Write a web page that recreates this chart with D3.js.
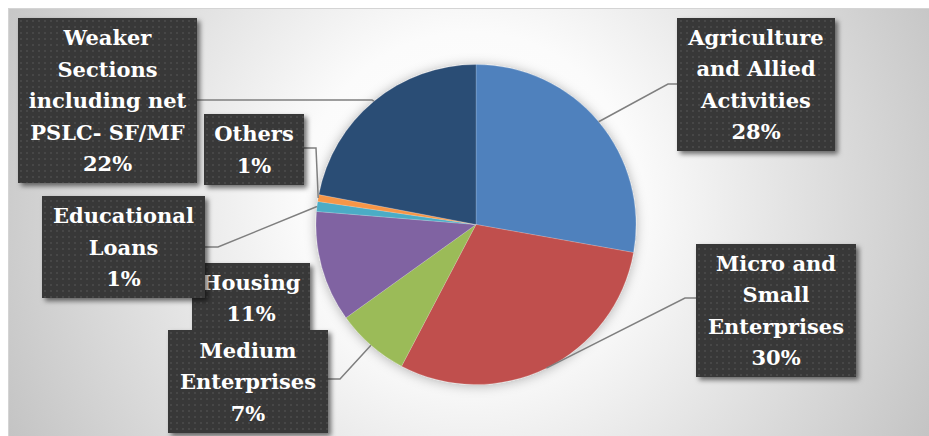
<!DOCTYPE html>
<html>
<head>
<meta charset="utf-8">
<script src="https://cdn.jsdelivr.net/npm/d3@7"></script>
<style>
  html, body { margin: 0; padding: 0; background: #fff; }
  svg { display: block; }
</style>
</head>
<body>
<div id="chart"></div>
<script>
// Priority sector lending share by sector (%)
const categories = [
    'Agriculture and Allied Activities',
    'Micro and Small Enterprises',
    'Medium Enterprises',
    'Housing',
    'Educational Loans',
    'Others',
    'Weaker Sections including net PSLC- SF/MF'
];
const shares = [27.8, 29.9, 7.4, 11.2, 1.0, 0.7, 22.0];
const sliceColors = ['#4f81bd', '#c0504d', '#9bbb59', '#8064a2', '#4bacc6', '#f79646', '#2c4d75'];
const labelLines = [
    ['Agriculture', 'and Allied', 'Activities'],
    ['Micro and', 'Small', 'Enterprises'],
    ['Medium', 'Enterprises'],
    ['Housing'],
    ['Educational', 'Loans'],
    ['Others'],
    ['Weaker', 'Sections', 'including net', 'PSLC- SF/MF']
];

// Posición de las etiquetas (caja + codo de la línea guía)
const labelLayout = [
    { x: 677, y: 18,  w: 158, h: 133, elbow: [668, 84],  side: 'left' },
    { x: 696, y: 244, w: 160, h: 133, elbow: [685, 298], side: 'left' },
    { x: 168, y: 330, w: 160, h: 103, elbow: [340, 379], side: 'right' },
    { x: 192, y: 263, w: 118, h: 70,  elbow: null },
    { x: 42,  y: 196, w: 163, h: 102, elbow: [218, 247], side: 'right' },
    { x: 204, y: 114, w: 100, h: 71,  elbow: [316, 148], side: 'right' },
    { x: 18,  y: 18,  w: 179, h: 165, elbow: [372, 100], side: 'right' }
];
const drawOrder = [0, 1, 3, 2, 4, 5, 6];

const W = 929, H = 436;
const cx = 476, cy = 224.5, radius = 160;
const lineHeight = 31.5;

const svg = d3.select('#chart').append('svg')
    .attr('width', W).attr('height', H);

const defs = svg.append('defs');

// Fondo con degradado radial
const grad = defs.append('radialGradient')
    .attr('id', 'bg').attr('gradientUnits', 'userSpaceOnUse')
    .attr('cx', 470).attr('cy', 200).attr('r', 560);
grad.append('stop').attr('offset', 0).attr('stop-color', '#ffffff');
grad.append('stop').attr('offset', 0.3).attr('stop-color', '#fbfbfb');
grad.append('stop').attr('offset', 1).attr('stop-color', '#bdbdbd');

// Patrón punteado de las cajas
const pat = defs.append('pattern')
    .attr('id', 'dots').attr('patternUnits', 'userSpaceOnUse')
    .attr('width', 6).attr('height', 6);
pat.append('rect').attr('width', 6).attr('height', 6).attr('fill', '#393939');
pat.append('rect').attr('x', 2).attr('y', 2).attr('width', 2).attr('height', 2).attr('fill', '#474747');

const boxShadow = defs.append('filter').attr('id', 'boxShadow')
    .attr('x', '-10%').attr('y', '-10%').attr('width', '130%').attr('height', '130%');
boxShadow.append('feDropShadow')
    .attr('dx', 3).attr('dy', 3).attr('stdDeviation', 2.5)
    .attr('flood-color', '#000').attr('flood-opacity', 0.55);

const pieShadow = defs.append('filter').attr('id', 'pieShadow')
    .attr('x', '-20%').attr('y', '-20%').attr('width', '140%').attr('height', '140%');
pieShadow.append('feDropShadow')
    .attr('dx', 0).attr('dy', 1).attr('stdDeviation', 6)
    .attr('flood-color', '#000').attr('flood-opacity', 0.3);

svg.append('rect')
    .attr('x', 8.5).attr('y', 8.5).attr('width', W).attr('height', H)
    .attr('fill', 'url(#bg)').attr('stroke', '#d4d4d4').attr('stroke-width', 1);

// Pie
const pie = d3.pie().sort(null).value(d => d)(shares);
const arc = d3.arc().innerRadius(0).outerRadius(radius);

const pieG = svg.append('g')
    .attr('transform', `translate(${cx},${cy})`)
    .attr('filter', 'url(#pieShadow)');

pieG.selectAll('path')
    .data(pie)
    .join('path')
    .attr('d', arc)
    .attr('fill', (d, i) => sliceColors[i])
    .attr('stroke', 'rgba(255,255,255,0.35)')
    .attr('stroke-width', 0.5);

// Líneas guía
const edge = d => {
    const a = (d.startAngle + d.endAngle) / 2;
    return [cx + radius * Math.sin(a), cy - radius * Math.cos(a)];
};

pie.forEach((d, i) => {
    const L = labelLayout[i];
    if (!L.elbow) return;
    const p0 = edge(d);
    const xEnd = L.side === 'left' ? L.x : L.x + L.w;
    svg.append('polyline')
        .attr('points', [p0, L.elbow, [xEnd, L.elbow[1]]].map(p => p.join(',')).join(' '))
        .attr('fill', 'none')
        .attr('stroke', '#7f7f7f')
        .attr('stroke-width', 1.5);
});

// Etiquetas
drawOrder.forEach(i => {
    const L = labelLayout[i];
    const g = svg.append('g');
    g.append('rect')
        .attr('x', L.x).attr('y', L.y).attr('width', L.w).attr('height', L.h)
        .attr('fill', 'url(#dots)')
        .attr('filter', 'url(#boxShadow)');

    const lines = labelLines[i].concat([Math.round(shares[i]) + '%']);
    const top = L.y + L.h / 2 - (lines.length - 1) * lineHeight / 2;
    const text = g.append('text')
        .attr('text-anchor', 'middle')
        .attr('font-family', '"DejaVu Serif", serif')
        .attr('font-weight', 'bold')
        .attr('font-size', '21px')
        .attr('fill', '#ffffff');
    lines.forEach((t, k) => {
        text.append('tspan')
            .attr('x', L.x + L.w / 2)
            .attr('y', top + k * lineHeight)
            .attr('dy', '0.36em')
            .text(t);
    });
});
</script>
</body>
</html>
